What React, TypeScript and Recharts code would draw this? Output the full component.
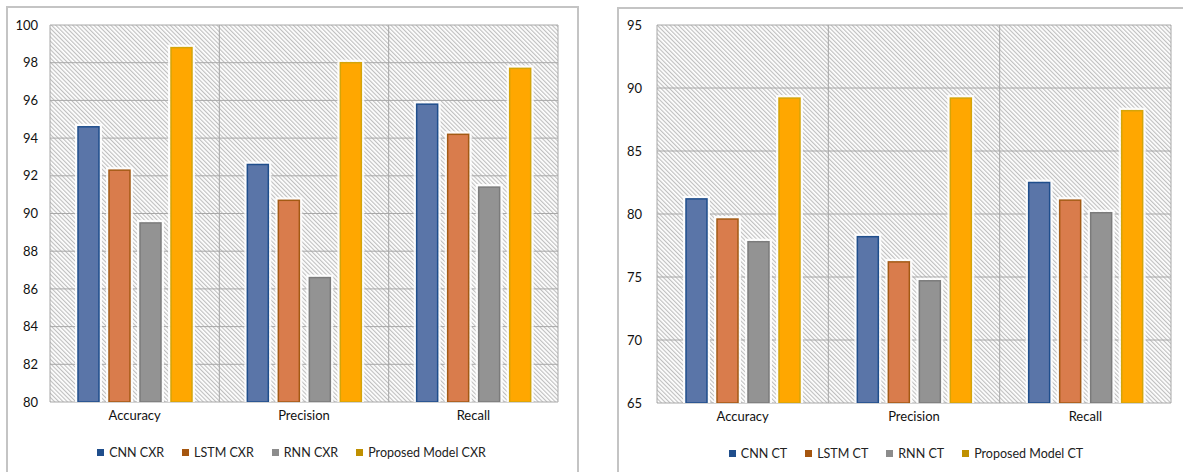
import { Bar, BarChart, CartesianGrid, Legend, XAxis, YAxis } from 'recharts'

const categories = ['Accuracy', 'Precision', 'Recall']

const cnnCxr = [94.6, 92.6, 95.8]
const lstmCxr = [92.3, 90.7, 94.2]
const rnnCxr = [89.5, 86.6, 91.4]
const proposedCxr = [98.8, 98.0, 97.7]
const cxrTicks = [80, 82, 84, 86, 88, 90, 92, 94, 96, 98, 100]

const cnnCt = [81.2, 78.2, 82.5]
const lstmCt = [79.6, 76.2, 81.1]
const rnnCt = [77.8, 74.7, 80.1]
const proposedCt = [89.2, 89.2, 88.2]
const ctTicks = [65, 70, 75, 80, 85, 90, 95]

const FONT = 'Lato, "Noto Sans", sans-serif'

// fill, outline, legend swatch
const STYLE = [
  { fill: '#5a75a8', stroke: '#1f4e8c', swatch: '#1f4e8c' },
  { fill: '#d97c4c', stroke: '#a35a14', swatch: '#a5560f' },
  { fill: '#939393', stroke: '#7b7b7b', swatch: '#8c8c8c' },
  { fill: '#ffa700', stroke: '#d4a40a', swatch: '#bf9000' },
]

function rows(series: number[][]) {
  return categories.map((name, i) => {
    const row: Record<string, number | string> = { name }
    series.forEach((s, k) => (row['s' + k] = s[i]))
    return row
  })
}

// bar with the soft white halo the original has round each column
function haloBar(k: number) {
  return (p: any) => {
    const { x, y, width, height } = p
    if (!height) return <g />
    return (
      <g>
        <rect x={x - 3} y={y - 3} width={width + 6} height={height + 3} fill="#ffffff" opacity={0.85} />
        <rect x={x} y={y} width={width} height={height} fill={STYLE[k].fill}
          stroke={STYLE[k].stroke} strokeWidth={1.5} />
      </g>
    )
  }
}

function Panel({
  id, series, labels, ticks, width, height, margin, axisWidth, tickMargin,
}: {
  id: string
  series: number[][]
  labels: string[]
  ticks: number[]
  width: number
  height: number
  margin: { top: number; right: number; left: number; bottom: number }
  axisWidth: number
  tickMargin: number
}) {
  const data = rows(series)
  const legend = () => (
    <div style={{
      display: 'flex', justifyContent: 'center', alignItems: 'center', height: 20,
      fontFamily: FONT, fontSize: 12.5, color: '#222', gap: 18,
    }}>
      {labels.map((l, k) => (
        <span key={l} style={{ display: 'flex', alignItems: 'center', gap: 5 }}>
          <span style={{ width: 7, height: 7, background: STYLE[k].swatch, display: 'inline-block' }} />
          {l}
        </span>
      ))}
    </div>
  )
  return (
    <BarChart width={width} height={height} data={data} margin={margin} barSize={21} barGap={10}>
      <defs>
        <pattern id={id} width="3" height="3" patternUnits="userSpaceOnUse" patternTransform="rotate(-45)">
          <rect width="3" height="3" fill="#ffffff" />
          <line x1="0.6" y1="0" x2="0.6" y2="3" stroke="#bcbcbc" strokeWidth="1.1" />
        </pattern>
      </defs>
      <CartesianGrid
        fill={`url(#${id})`}
        stroke="#a8a8a8"
        verticalCoordinatesGenerator={({ offset }: any) =>
          [0, 1, 2, 3].map((i) => offset.left + (i * offset.width) / 3)}
      />
      <XAxis
        dataKey="name" axisLine={false} tickLine={false} tickSize={0} tickMargin={9}
        height={40} interval={0}
        tick={{ fill: '#111', fontSize: 13, fontFamily: FONT }}
      />
      <YAxis
        domain={[ticks[0], ticks[ticks.length - 1]]} ticks={ticks} allowDataOverflow
        axisLine={false} tickLine={false} tickSize={0} tickMargin={tickMargin} width={axisWidth}
        tick={{ fill: '#111', fontSize: 13, fontFamily: FONT }}
      />
      <Legend content={legend} wrapperStyle={{ left: 0, width }} height={20} />
      {labels.map((l, k) => (
        <Bar
          key={l} dataKey={'s' + k} name={l}
          fill={STYLE[k].fill} stroke={STYLE[k].stroke} strokeWidth={1.5}
          shape={haloBar(k)}
          isAnimationActive={false}
        />
      ))}
    </BarChart>
  )
}

export default function App() {
  return (
    <div style={{ position: 'absolute', left: 0, top: 0, width: 1183, height: 472, overflow: 'hidden', background: '#fff' }}>
      <div style={{ position: 'absolute', left: 6, top: 6, width: 569, height: 500, border: '2px solid #c4c4c4' }} />
      <div style={{ position: 'absolute', left: 617, top: 7, width: 600, height: 500, border: '2px solid #c4c4c4' }} />
      <div style={{ position: 'absolute', left: 7, top: 7 }}>
        <Panel
          id="hatch-cxr"
          series={[cnnCxr, lstmCxr, rnnCxr, proposedCxr]}
          labels={['CNN CXR', 'LSTM CXR', 'RNN CXR', 'Proposed Model CXR']}
          ticks={cxrTicks}
          width={569} height={470}
          margin={{ top: 18, right: 18, left: 8, bottom: 15 }}
          axisWidth={35} tickMargin={12}
        />
      </div>
      <div style={{ position: 'absolute', left: 618, top: 8 }}>
        <Panel
          id="hatch-ct"
          series={[cnnCt, lstmCt, rnnCt, proposedCt]}
          labels={['CNN CT', 'LSTM CT', 'RNN CT', 'Proposed Model CT']}
          ticks={ctTicks}
          width={576} height={470}
          margin={{ top: 17, right: 23, left: 8, bottom: 15 }}
          axisWidth={31} tickMargin={15}
        />
      </div>
    </div>
  )
}
